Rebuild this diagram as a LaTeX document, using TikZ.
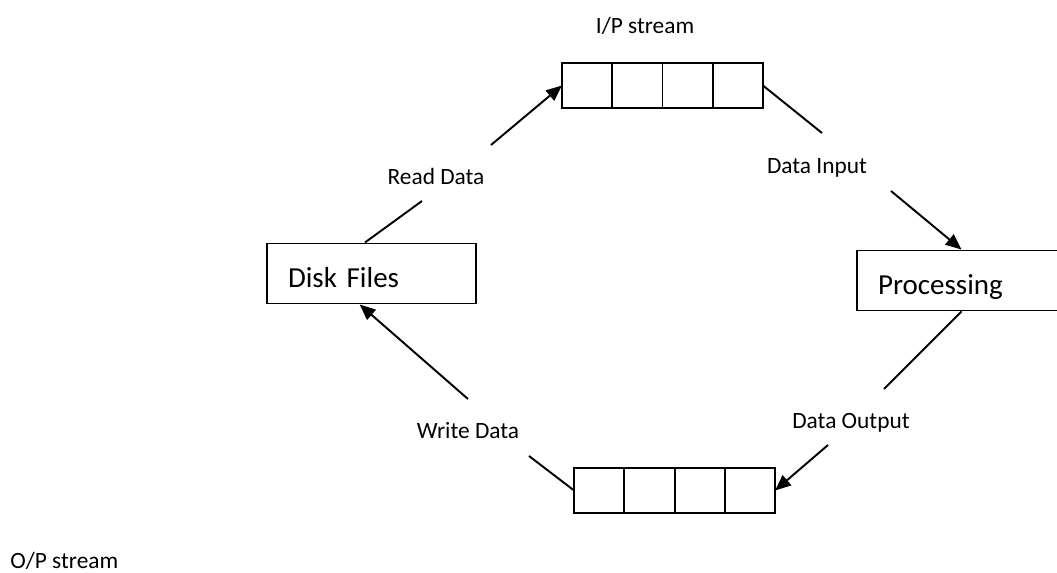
\documentclass[tikz,border=0pt]{standalone}
\usepackage{fontspec}
\setmainfont{Carlito}
\usetikzlibrary{positioning,arrows.meta}

\begin{document}
\begin{tikzpicture}[x=0.02cm,y=-0.02cm,
    cell/.style={draw,line width=1.1pt,minimum width=1.005cm,minimum height=0.9cm,inner sep=0pt,outer sep=0pt},
    filebox/.style={draw,line width=1.1pt,text width=3.34cm,align=left,inner xsep=0.42cm,inner ysep=0pt,
      minimum height=1.2cm,text height=16.2pt,text depth=0pt,font=\fontsize{16.5}{19}\selectfont},
    lbl/.style={font=\fontsize{13.3}{16}\selectfont,anchor=base,inner sep=0pt},
    conn/.style={line width=1.1pt},
    arr/.style={conn,-{Triangle[length=9pt,width=7.5pt]}}]
      \clip (0,0) rectangle (1057,573);

      % streams
      \node[cell] (ip1) at (587.1,85.5) {};
      \node[cell,right=0pt of ip1] (ip2) {};
      \node[cell,right=0pt of ip2] (ip3) {};
      \node[cell,right=0pt of ip3] (ip4) {};
      \node[cell] (op1) at (599.2,490.5) {};
      \node[cell,right=0pt of op1] (op2) {};
      \node[cell,right=0pt of op2] (op3) {};
      \node[cell,right=0pt of op3] (op4) {};

      \node[filebox] (disk) at (371.5,273.5) {Disk Files};
      \node[filebox] (proc) at (961.5,280.5) {Processing};

      \node[lbl] (ipl) at (645,34) {I/P stream};
      \node[lbl] (rdl) at (436,185) {Read Data};
      \node[lbl] (dil) at (817,174) {Data Input};
      \node[lbl] (dol) at (851,429) {Data Output};
      \node[lbl] (wdl) at (468,439) {Write Data};
      \node[lbl,anchor=base west] (opl) at (10,568) {O/P stream};

      \coordinate (rdA) at (422,201);
      \coordinate (rdB) at (491,145);
      \coordinate (diA) at (822,133);
      \coordinate (diB) at (891,191);
      \coordinate (doA) at (884,389);
      \coordinate (doB) at (828,445);
      \coordinate (wdA) at (529,456);
      \coordinate (wdB) at (468,399);

      \draw[conn] (disk.102) -- (rdA);
      \draw[arr] (rdB) -- (ip1.west);
      \draw[conn] (ip4.east) -- (diA);
      \draw[arr] (diB) -- (proc.north);
      \draw[conn] (proc.south) -- (doA);
      \draw[arr] (doB) -- (op4.east);
      \draw[conn] (op1.west) -- (wdA);
      \draw[arr] (wdB) -- (disk.249);
    \end{tikzpicture}
\end{document}
